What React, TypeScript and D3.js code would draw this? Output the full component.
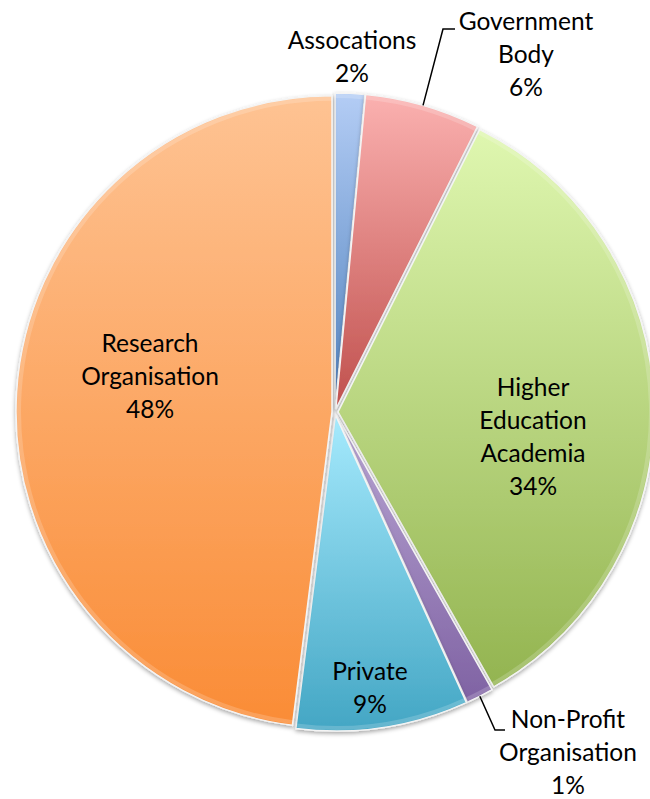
import React, { useEffect, useRef } from 'react';
import * as d3 from 'd3';

// chart data (shares, labels are rounded)
const categories = ['Assocations', 'Government Body', 'Higher Education Academia', 'Non-Profit Organisation', 'Private', 'Research Organisation'];
const shares = [1.5, 5.9, 34.4, 1.4, 8.8, 48.0];
// label text lines (without the percent line)
const labelLines = [['Assocations'], ['Government', 'Body'], ['Higher', 'Education', 'Academia'], ['Non-Profit', 'Organisation'], ['Private'], ['Research', 'Organisation']];
const topColors = ['#b4cdf5', '#fbb1b0', '#dff7b0', '#b9a6d4', '#a6eafd', '#fec393'];
const bottomColors = ['#4f81bd', '#c0504d', '#93b450', '#7f62a3', '#43a6c4', '#fa8c36'];

const App = () => {
  const ref = useRef<SVGSVGElement>(null);

  useEffect(() => {
    const cx = 335;
    const cy = 412;
    const radius = 316;
    const explode = 3;

    const svg = d3.select(ref.current);
    svg.selectAll('*').remove();

    const defs = svg.append('defs');
    categories.forEach((c, i) => {
      const g = defs.append('linearGradient')
        .attr('id', 'grad' + i)
        .attr('x1', 0).attr('y1', 0).attr('x2', 0).attr('y2', 1);
      g.append('stop').attr('offset', '0%').attr('stop-color', topColors[i]);
      g.append('stop').attr('offset', '100%').attr('stop-color', bottomColors[i]);
    });

    const shadow = defs.append('filter').attr('id', 'shadow')
      .attr('x', '-10%').attr('y', '-10%').attr('width', '120%').attr('height', '120%');
    shadow.append('feDropShadow')
      .attr('dx', 0).attr('dy', 2).attr('stdDeviation', 2)
      .attr('flood-color', '#000').attr('flood-opacity', 0.35);

    const pie = d3.pie<number>().sort(null).value(d => d)(shares);
    const arc = d3.arc<d3.PieArcDatum<number>>().innerRadius(0).outerRadius(radius);

    const g = svg.append('g').attr('transform', `translate(${cx},${cy})`);

    const slices = g.selectAll('g.slice')
      .data(pie)
      .enter()
      .append('g')
      .attr('class', 'slice')
      .attr('transform', d => {
        const a = (d.startAngle + d.endAngle) / 2;
        return `translate(${explode * Math.sin(a)},${-explode * Math.cos(a)})`;
      });

    slices.append('path')
      .attr('d', arc)
      .attr('fill', (d, i) => `url(#grad${i})`)
      .attr('stroke', '#f4f4f4')
      .attr('stroke-width', 1.5)
      .attr('filter', 'url(#shadow)');

    // soft bevel highlight along the rim
    const rim = d3.arc<d3.PieArcDatum<number>>().innerRadius(radius - 5).outerRadius(radius - 1);
    slices.append('path')
      .attr('d', rim)
      .attr('fill', '#fff')
      .attr('opacity', 0.18);

    // label offsets from pie centre
    const labelPos = [[17, -355], [191, -357], [198, 25], [233, 341], [35, 276], [-185, -35]];
    const lineH = 33;

    labelLines.forEach((lines, i) => {
      const all = [...lines, Math.round(shares[i]) + '%'];
      const [dx, dy] = labelPos[i];
      const t = g.append('text')
        .attr('text-anchor', 'middle')
        .attr('font-family', 'Lato, "Open Sans", sans-serif')
        .attr('font-size', 24.5)
        .attr('fill', '#000');
      all.forEach((s, k) => {
        t.append('tspan')
          .attr('x', dx)
          .attr('y', dy + (k - (all.length - 1) / 2) * lineH + 8)
          .text(s);
      });
    });

    // leader lines for the small outside labels
    const leader = (i: number, pts: [number, number][]) => {
      const d = pie[i];
      const a = (d.startAngle + d.endAngle) / 2;
      const start: [number, number] = [(radius + explode) * Math.sin(a), -(radius + explode) * Math.cos(a)];
      g.append('path')
        .attr('d', d3.line()([start, ...pts]))
        .attr('fill', 'none')
        .attr('stroke', '#000')
        .attr('stroke-width', 1.5);
    };
    leader(1, [[108, -383], [120, -383]]);
    leader(3, [[160, 318], [170, 318]]);
  }, []);

  return (
    <div style={{ position: 'absolute', left: 0, top: 0 }}>
      <svg ref={ref} width={650} height={799} style={{ display: 'block', background: '#fff' }}></svg>
    </div>
  );
};

export default App;
